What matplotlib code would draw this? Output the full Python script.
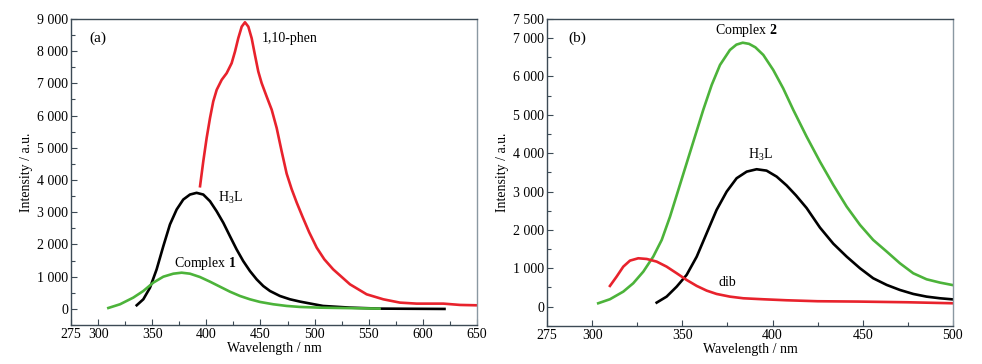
import matplotlib.pyplot as plt
from matplotlib.ticker import MultipleLocator

plt.rcParams["font.family"] = ["Liberation Serif", "DejaVu Serif"]
plt.rcParams["mathtext.fontset"] = "custom"
plt.rcParams["mathtext.rm"] = "Liberation Serif"
plt.rcParams["mathtext.bf"] = "Liberation Serif:bold"

RED = "#e8222c"
GREEN = "#4cb33a"
BLACK = "#000000"
SPINE = "#3c4a55"

# panel (a)
a_phen_x = [394.2, 397.2, 400.3, 403.4, 406.4, 409.6, 414.2, 418.8, 423.4, 426.5, 429.5,
            432.7, 435.7, 438.8, 441.9, 444.9, 448.0, 451.1, 455.7, 460.4, 465.0, 469.6,
            474.2, 478.8, 483.5, 489.0, 495.0, 502.0, 509.0, 517.2, 532.7, 548.1, 563.5,
            578.9, 594.3, 619.0, 634.4, 650.0]
a_phen_y = [3808, 4582, 5304, 5924, 6440, 6801, 7110, 7317, 7627, 7988, 8400,
            8761, 8896, 8761, 8400, 7884, 7368, 7009, 6594, 6182, 5614, 4890,
            4200, 3720, 3300, 2850, 2380, 1900, 1540, 1228, 764, 454, 299,
            196, 165, 165, 124, 113]

a_h3l_x = [335.7, 341.8, 348.0, 354.1, 360.3, 366.4, 372.6, 378.7, 384.9, 391.0, 397.2,
           403.4, 409.5, 415.7, 421.8, 428.0, 434.1, 440.3, 446.5, 452.6, 458.8, 468.0,
           477.3, 486.5, 494.0, 507.8, 532.7, 560.0, 620.0]
a_h3l_y = [114, 299, 661, 1228, 1950, 2621, 3086, 3395, 3550, 3603, 3550,
           3343, 3033, 2674, 2260, 1847, 1485, 1176, 918, 711, 557, 402,
           299, 228, 180, 93, 41, 10, 0]

a_c1_x = [309.5, 320.3, 332.5, 341.8, 351.0, 360.3, 369.5, 377.2, 384.9, 394.1, 403.4,
          412.6, 421.8, 431.1, 440.3, 449.6, 461.8, 474.2, 486.5, 505.0, 532.7, 560.0]
a_c1_y = [30, 145, 351, 557, 816, 1001, 1094, 1125, 1094, 991, 846,
          691, 536, 402, 299, 217, 145, 93, 62, 40, 25, 10]

# panel (b)
b_c2_x = [303.4, 309.9, 317.3, 322.8, 328.4, 333.9, 338.6, 343.2, 347.8, 352.4, 357.0,
          361.6, 366.3, 370.9, 376.4, 380.0, 383.5, 387.0, 390.5, 394.9, 400.4, 405.9,
          411.5, 418.9, 426.3, 433.7, 441.1, 448.5, 455.8, 463.3, 470.6, 478.0, 485.4,
          492.8, 500.0]
b_c2_y = [87, 192, 391, 608, 912, 1303, 1738, 2346, 3041, 3737, 4432,
          5127, 5779, 6300, 6691, 6830, 6880, 6850, 6760, 6561, 6170, 5692,
          5130, 4432, 3779, 3172, 2607, 2129, 1738, 1434, 1130, 869, 712,
          626, 560]

b_h3l_x = [335.8, 341.3, 346.9, 352.4, 358.0, 363.5, 369.0, 374.6, 380.1, 385.7, 391.2,
           396.7, 402.3, 407.8, 413.0, 418.9, 426.3, 433.7, 441.1, 448.5, 455.8, 463.3,
           470.6, 478.0, 485.4, 492.8, 500.0]
b_h3l_y = [104, 260, 521, 826, 1303, 1912, 2520, 2998, 3346, 3519, 3581,
           3545, 3389, 3160, 2900, 2570, 2060, 1640, 1303, 999, 739, 565,
           434, 330, 260, 217, 188]

b_dib_x = [309.9, 313.6, 317.3, 321.0, 325.6, 330.3, 335.8, 341.3, 346.9, 352.4, 358.0,
           363.5, 369.0, 376.4, 383.8, 394.9, 407.8, 425.0, 447.2, 474.9, 500.0]
b_dib_y = [539, 782, 1042, 1199, 1260, 1242, 1173, 1042, 869, 695, 539,
           417, 330, 260, 217, 191, 165, 140, 131, 113, 87]


def fmt(v):
    return f"{v:,}".replace(",", " ")


def style(ax, xlim, xt, ylim, yt):
    ax.set_xlim(*xlim)
    ax.set_ylim(*ylim)
    ax.set_xticks(xt)
    ax.set_xticklabels([str(v) for v in xt])
    ax.xaxis.set_minor_locator(MultipleLocator(25))
    ax.set_yticks(yt)
    ax.set_yticklabels([fmt(v) for v in yt])
    ax.yaxis.set_minor_locator(MultipleLocator(500))
    ax.tick_params(which="both", direction="in", top=False, right=False,
                   labelsize=10, color=SPINE, width=0.8, pad=2)
    ax.tick_params(which="major", length=4)
    ax.tick_params(which="minor", length=3)
    for s in ax.spines.values():
        s.set_color(SPINE)
        s.set_linewidth(1.0)
    ax.spines["right"].set_color("#8a98a2")
    ax.set_xlabel("Wavelength / nm", fontsize=10, labelpad=1)
    ax.set_ylabel("Intensity / a.u.", fontsize=10, labelpad=3)


fig = plt.figure(figsize=(9.82, 3.64), dpi=100)
ax1 = fig.add_axes([0.0723, 0.107, 0.4134, 0.841])
ax2 = fig.add_axes([0.557, 0.105, 0.4134, 0.843])

lw = 1.9
ax1.plot(a_phen_x, a_phen_y, color=RED, lw=lw)
ax1.plot(a_h3l_x, a_h3l_y, color=BLACK, lw=lw)
ax1.plot(a_c1_x, a_c1_y, color=GREEN, lw=lw)
style(ax1, (275, 650), [275, 300, 350, 400, 450, 500, 550, 600, 650],
      (-500, 9000), list(range(0, 9001, 1000)))
ax1.text(300, 8400, "(a)", fontsize=11, ha="center", va="center")
ax1.text(451, 8400, "1,10-phen", fontsize=10, va="center")
ax1.text(411, 3450, r"H$_3$L", fontsize=10, va="center")
ax1.text(370, 1400, "Complex $\\mathbf{1}$", fontsize=10, va="center")

ax2.plot(b_c2_x, b_c2_y, color=GREEN, lw=lw)
ax2.plot(b_h3l_x, b_h3l_y, color=BLACK, lw=lw)
ax2.plot(b_dib_x, b_dib_y, color=RED, lw=lw)
style(ax2, (275, 500), [275, 300, 350, 400, 450, 500],
      (-500, 7500), list(range(0, 7001, 1000)) + [7500])
ax2.text(292, 7000, "(b)", fontsize=11, ha="center", va="center")
ax2.text(385.3, 7190, "Complex $\\mathbf{2}$", fontsize=10, ha="center", va="center")
ax2.text(393.6, 3950, r"H$_3$L", fontsize=10, ha="center", va="center")
ax2.text(375, 628, "dib", fontsize=10, ha="center", va="center")

fig.savefig("out.png", dpi=100)
